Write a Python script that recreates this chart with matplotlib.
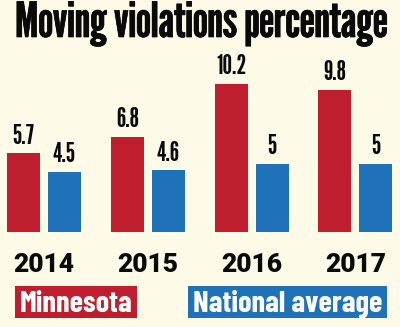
import matplotlib
matplotlib.use('Agg')
import matplotlib.pyplot as plt
import matplotlib.patheffects as pe
import numpy as np

# data
years = ['2014', '2015', '2016', '2017']
minnesota = [5.7, 6.8, 10.2, 9.8]
national = [4.5, 4.6, 5, 5]
mn_labels = ['5.7', '6.8', '10.2', '9.8']
nat_labels = ['4.5', '4.6', '5', '5']

BG = '#FDFBE8'
RED = '#BE1E2D'
BLUE = '#1F72B8'
INK = '#0A0A0A'
GOTHIC = ['League Gothic', 'Oswald', 'DejaVu Sans']
COND = ['Barlow Condensed', 'Roboto Condensed', 'DejaVu Sans']
H = 327.0

fig = plt.figure(figsize=(4.0, 3.27), dpi=100, facecolor=BG)

# bars area: pixel y 60..232 from top
ax = fig.add_axes([0, (H - 232) / H, 1, 172 / H])
ax.set_facecolor(BG)
x = np.arange(len(years))
w = 0.318
off = 0.197
ax.bar(x - off, minnesota, w, color=RED)
ax.bar(x + off, national, w, color=BLUE)
ax.set_xlim(-44 / 103.8, (400 - 44) / 103.8)
ax.set_ylim(0.6, 0.6 + 172 / 15.4)
ax.axis('off')

for xs, vals, labs in [(x - off, minnesota, mn_labels), (x + off, national, nat_labels)]:
    for xi, v, s in zip(xs, vals, labs):
        ax.annotate(s, (xi, v), xytext=(0, 3.5), textcoords='offset points',
                    ha='center', va='bottom', fontsize=19.5, family=GOTHIC,
                    color=INK)

# year labels (baseline at y=272 px)
for xi, yr in zip(x, years):
    ax.annotate(yr, (xi, 0.6), xytext=(0, -40 / 1.389), textcoords='offset points',
                ha='center', va='baseline', fontsize=19, fontweight=900,
                family=['Roboto', 'Liberation Sans', 'DejaVu Sans'], color=INK)

# title, fitted to the width of the reference heading
title = fig.text(202 / 400, 1 - 37 / H, 'Moving violations percentage', ha='center',
                 va='baseline', fontsize=30, family=GOTHIC, color=INK,
                 path_effects=[pe.withStroke(linewidth=0.5, foreground=INK)])
fig.canvas.draw()
bb = title.get_window_extent()
title.set_fontsize(30 * 373 / bb.width)

# legend boxes
def legend_box(x0, x1, label, color):
    fig.patches.append(plt.Rectangle((x0 / 400, 1 - 318 / H), (x1 - x0) / 400,
                                     32 / H, transform=fig.transFigure,
                                     facecolor=color, edgecolor='none'))
    fig.text((x0 + x1) / 2 / 400, 1 - 312 / H, label, ha='center', va='baseline',
             fontsize=22, fontweight='bold', family=COND, color='white')

legend_box(15, 137, 'Minnesota', RED)
legend_box(188, 387, 'National average', BLUE)

fig.savefig('out.png', dpi=100, facecolor=BG)
